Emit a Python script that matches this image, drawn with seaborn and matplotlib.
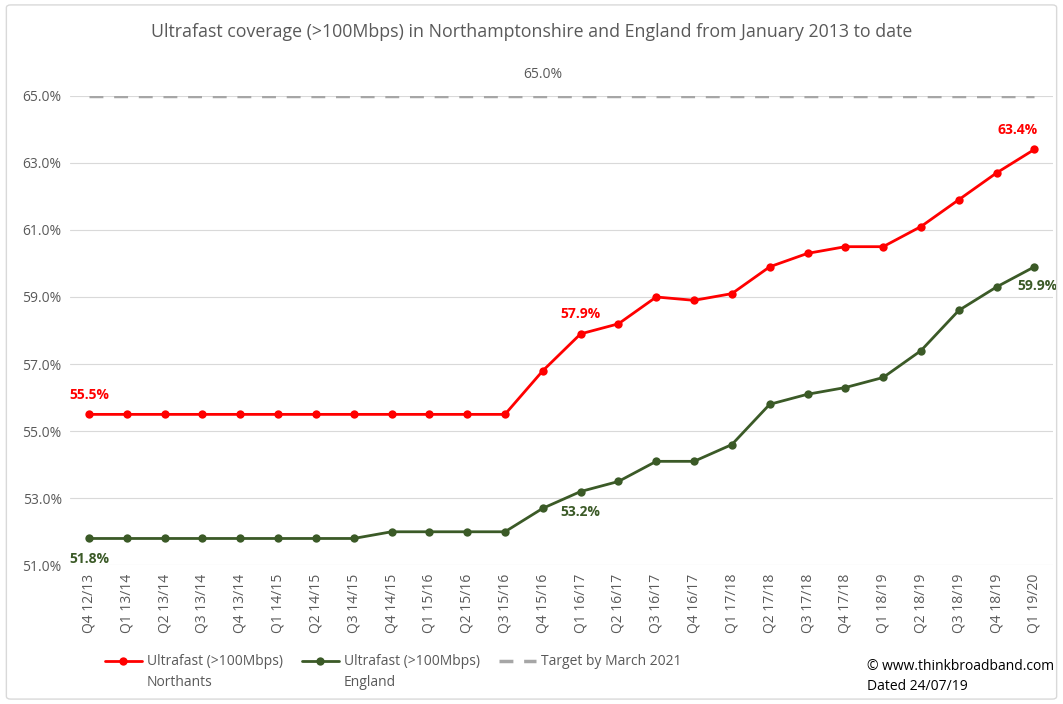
import matplotlib
matplotlib.use("Agg")
import matplotlib.pyplot as plt
import seaborn as sns
import pandas as pd
from matplotlib.lines import Line2D
from matplotlib.patches import FancyBboxPatch

quarters = ["Q4 12/13", "Q1 13/14", "Q2 13/14", "Q3 13/14", "Q4 13/14", "Q1 14/15",
            "Q2 14/15", "Q3 14/15", "Q4 14/15", "Q1 15/16", "Q2 15/16", "Q3 15/16",
            "Q4 15/16", "Q1 16/17", "Q2 16/17", "Q3 16/17", "Q4 16/17", "Q1 17/18",
            "Q2 17/18", "Q3 17/18", "Q4 17/18", "Q1 18/19", "Q2 18/19", "Q3 18/19",
            "Q4 18/19", "Q1 19/20"]
northants = [55.5, 55.5, 55.5, 55.5, 55.5, 55.5, 55.5, 55.5, 55.5, 55.5, 55.5, 55.5,
             56.8, 57.9, 58.2, 59.0, 58.9, 59.1, 59.9, 60.3, 60.5, 60.5, 61.1, 61.9,
             62.7, 63.4]
england = [51.8, 51.8, 51.8, 51.8, 51.8, 51.8, 51.8, 51.8, 52.0, 52.0, 52.0, 52.0,
           52.7, 53.2, 53.5, 54.1, 54.1, 54.6, 55.8, 56.1, 56.3, 56.6, 57.4, 58.6,
           59.3, 59.9]
target = [65.0] * len(quarters)
yticks = [51, 53, 55, 57, 59, 61, 63, 65]

legend_first = ["Ultrafast (>100Mbps)", "Ultrafast (>100Mbps)", "Target by March 2021"]
legend_second = ["Northants", "England", ""]

RED = "#FF0000"
GREEN = "#3B5A27"
GREY = "#A6A6A6"
TXT = "#595959"

sns.set_theme(style="white")
plt.rcParams["font.family"] = ["Open Sans", "DejaVu Sans"]

fig = plt.figure(figsize=(10.63, 7.04), dpi=100)
ax = fig.add_axes([0.0659, 0.197, 0.925, 0.667])

df = pd.DataFrame({"q": quarters, "n": northants, "e": england, "t": target})

sns.lineplot(data=df, x="q", y="t", ax=ax, color=GREY, lw=2.5, dashes=(4.0, 3.1), sort=False)
sns.lineplot(data=df, x="q", y="n", ax=ax, color=RED, lw=2, marker="o", markersize=6,
             markeredgewidth=0, sort=False)
sns.lineplot(data=df, x="q", y="e", ax=ax, color=GREEN, lw=2, marker="o", markersize=6,
             markeredgewidth=0, sort=False)

ax.set_xlim(-0.5, len(quarters) - 0.5)
ax.set_ylim(51, 65)
ax.set_yticks(yticks)
ax.set_yticklabels([f"{v:.1f}%" for v in yticks], color=TXT, fontsize=10)
ax.set_xticks(range(len(quarters)))
ax.set_xticklabels(quarters, rotation=90, color=TXT, fontsize=10)
ax.tick_params(axis="both", length=0, pad=6)
ax.set_xlabel("")
ax.set_ylabel("")
ax.grid(axis="y", color="#D9D9D9", lw=0.8)
ax.set_axisbelow(True)
for s in ax.spines.values():
    s.set_visible(False)

def lab(i, v, col, dy, dx=0):
    ax.annotate(f"{v:.1f}%", (i, v), xytext=(dx, dy), textcoords="offset points",
                ha="center", va="center", color=col, fontsize=10, fontweight="bold")

lab(0, northants[0], RED, 14)
lab(13, northants[13], RED, 14)
lab(25, northants[25], RED, 14, dx=-12)
lab(0, england[0], GREEN, -15)
lab(13, england[13], GREEN, -15)
lab(25, england[25], GREEN, -14, dx=2)
ax.annotate(f"{target[12]:.1f}%", (12, target[12]), xytext=(0, 15), textcoords="offset points",
            ha="center", va="center", color=TXT, fontsize=10)

fig.text(0.5, 0.9545, "Ultrafast coverage (>100Mbps) in Northamptonshire and England from January 2013 to date",
         ha="center", va="center", color=TXT, fontsize=12.8)

handles = [Line2D([], [], color=RED, lw=2, marker="o", markersize=6, markeredgewidth=0),
           Line2D([], [], color=GREEN, lw=2, marker="o", markersize=6, markeredgewidth=0),
           Line2D([], [], color=GREY, lw=2.5, dashes=(4.0, 3.1))]
leg = fig.legend(handles, legend_first, loc="center left", bbox_to_anchor=(0.0988, 0.0597),
                 ncol=3, frameon=False, fontsize=10, labelcolor=TXT, handlelength=2.66,
                 columnspacing=1.37, handletextpad=0.36, borderpad=0, borderaxespad=0)

fig.canvas.draw()
renderer = fig.canvas.get_renderer()
inv = fig.transFigure.inverted()
for t, second in zip(leg.get_texts(), legend_second):
    if not second:
        continue
    bb = t.get_window_extent(renderer)
    x0, y0 = inv.transform((bb.x0, bb.y0))
    fig.text(x0, y0 - 21 / 704, second, ha="left", va="bottom", color=TXT, fontsize=10)

fig.text(0.816, 0.0384, "© www.thinkbroadband.com\nDated 24/07/19", ha="left", va="center",
         color="black", fontsize=10, linespacing=1.45)

fig.patches.append(FancyBboxPatch((0.006, 0.007), 0.988, 0.986, boxstyle="round,pad=0,rounding_size=0.004",
                                  transform=fig.transFigure, fill=False, ec="#D9D9D9", lw=1))

fig.savefig("out.png", dpi=100, facecolor="white")
